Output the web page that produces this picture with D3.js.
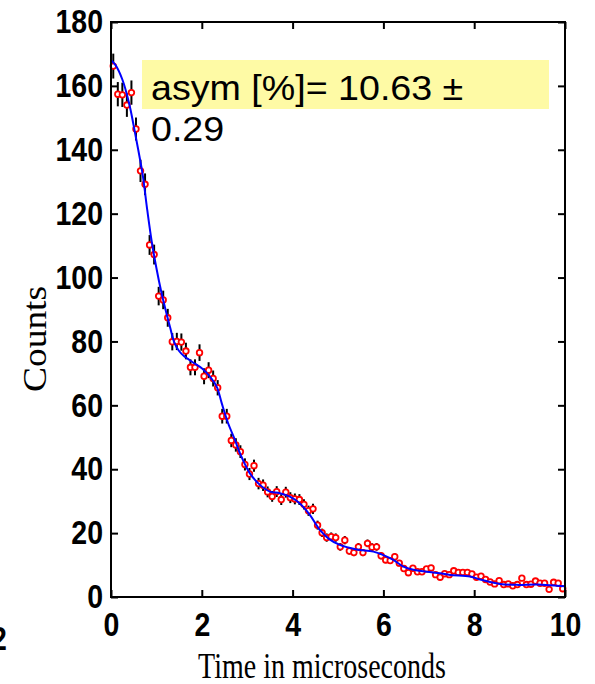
<!DOCTYPE html>
<html>
<head>
<meta charset="utf-8">
<script src="https://cdn.jsdelivr.net/npm/d3@7"></script>
<style>
  body { margin: 0; background: #fff; }
  svg { display: block; }
</style>
</head>
<body>
<div id="chart"></div>
<script>
// data ///////////////////////////
var times = [0.05, 0.15, 0.25, 0.35, 0.45, 0.55, 0.65, 0.75, 0.85, 0.95,
             1.05, 1.15, 1.25, 1.35, 1.45, 1.55, 1.65, 1.75, 1.85, 1.95,
             2.05, 2.15, 2.25, 2.35, 2.45, 2.55, 2.65, 2.75, 2.85, 2.95,
             3.05, 3.15, 3.25, 3.35, 3.45, 3.55, 3.65, 3.75, 3.85, 3.95,
             4.05, 4.15, 4.25, 4.35, 4.45, 4.55, 4.65, 4.75, 4.85, 4.95,
             5.05, 5.15, 5.25, 5.35, 5.45, 5.55, 5.65, 5.75, 5.85, 5.95,
             6.05, 6.15, 6.25, 6.35, 6.45, 6.55, 6.65, 6.75, 6.85, 6.95,
             7.05, 7.15, 7.25, 7.35, 7.45, 7.55, 7.65, 7.75, 7.85, 7.95,
             8.05, 8.15, 8.25, 8.35, 8.45, 8.55, 8.65, 8.75, 8.85, 8.95,
             9.05, 9.15, 9.25, 9.35, 9.45, 9.55, 9.65, 9.75, 9.85, 9.95];

var counts = [166.2, 157.4, 157.2, 154.0, 157.9, 146.5, 133.4, 129.2, 110.2, 107.2,
              94.2, 93.0, 87.4, 79.9, 80.0, 79.8, 77.0, 71.9, 71.9, 76.5,
              69.1, 71.0, 68.4, 65.5, 56.6, 56.6, 49.0, 47.6, 45.5, 41.5,
              38.5, 41.1, 35.5, 35.0, 32.9, 31.5, 33.0, 30.5, 32.8, 31.1,
              30.7, 30.5, 29.0, 27.0, 27.6, 22.5, 20.1, 18.6, 18.9, 18.6,
              15.7, 17.8, 14.4, 13.9, 15.7, 13.9, 16.8, 15.6, 15.7, 12.9,
              11.6, 11.4, 12.6, 10.6, 8.9, 7.6, 9.0, 7.9, 7.9, 8.8,
              9.1, 7.0, 6.2, 7.3, 7.0, 8.2, 7.7, 7.7, 7.7, 7.2,
              6.2, 6.5, 5.5, 4.7, 4.1, 5.1, 3.9, 4.1, 3.5, 3.9,
              5.9, 3.9, 4.0, 5.0, 4.3, 4.3, 2.4, 4.6, 4.3, 2.6];

var errors = [3.9, 3.8, 3.8, 3.7, 3.8, 3.6, 3.5, 3.4, 3.1, 3.1,
              2.9, 2.9, 2.8, 2.7, 2.7, 2.7, 2.6, 2.5, 2.5, 2.6,
              2.5, 2.5, 2.5, 2.4, 2.3, 2.3, 2.1, 2.1, 2.0, 1.9,
              1.9, 1.9, 1.8, 1.8, 1.7, 1.7, 1.7, 1.7, 1.7, 1.7,
              1.7, 1.7, 1.6, 1.6, 1.6, 1.4, 1.3, 1.3, 1.3, 1.3,
              1.2, 1.3, 1.1, 1.1, 1.2, 1.1, 1.2, 1.2, 1.2, 1.1,
              1.0, 1.0, 1.1, 1.0, 0.9, 0.8, 0.9, 0.85, 0.85, 0.9,
              0.9, 0.8, 0.75, 0.8, 0.8, 0.85, 0.8, 0.8, 0.8, 0.8,
              0.75, 0.75, 0.7, 0.65, 0.6, 0.7, 0.6, 0.6, 0.55, 0.6,
              0.7, 0.6, 0.6, 0.65, 0.6, 0.6, 0.45, 0.65, 0.6, 0.5];

// fitted curve
var fitT = [0, 0.1, 0.25, 0.4, 0.5, 0.6, 0.7, 0.8, 0.9, 1.0, 1.1, 1.2, 1.3, 1.4, 1.5, 1.6,
            1.8, 2.0, 2.18, 2.33, 2.44, 2.58, 2.73, 2.84, 3.06, 3.28, 3.5, 3.72, 3.94,
            4.16, 4.38, 4.6, 4.8, 5.04, 5.41, 5.78, 6.0, 6.22, 6.44, 6.66, 6.95, 7.25,
            7.47, 7.91, 8.13, 8.35, 8.57, 8.94, 9.38, 9.82, 10];
var fitV = [168, 166.5, 162, 154.5, 147.5, 140, 132, 121, 111, 103, 96, 90, 84.5, 79.5, 77, 75.5,
            73.5, 71.6, 69, 65.8, 60.6, 54.4, 49.2, 45.0, 38.7, 35.1, 33.0, 32.5, 31.4,
            29.3, 25.7, 21.0, 18.2, 16.3, 14.9, 14.2, 13.1, 11.6, 9.5, 8.5, 7.9, 7.4,
            6.9, 6.4, 5.5, 4.7, 4.1, 3.8, 3.9, 3.5, 3.4];

var xTicks = [0, 2, 4, 6, 8, 10];
var yTicks = [0, 20, 40, 60, 80, 100, 120, 140, 160, 180];

var asymText = ['asym [%]= 10.63 \u00b1', '0.29'];

// setup ///////////////////////////
var W = 595, H = 684;
var mLeft = 111, mRight = 565, mTop = 22, mBottom = 597;

var svg = d3.select('#chart')
    .append('svg')
    .attr('width', W)
    .attr('height', H);

var x = d3.scaleLinear().domain([0, 10]).range([mLeft, mRight]);
var y = d3.scaleLinear().domain([0, 180]).range([mBottom, mTop]);

var tickFont = '"Liberation Sans", Arial, sans-serif';

// data marks ///////////////////////////
var pts = times.map(function(t, i) {
    return {t: t, v: counts[i], e: errors[i]};
});

svg.append('g')
    .selectAll('line')
    .data(pts)
    .enter()
    .append('line')
    .attr('x1', function(d) { return x(d.t); })
    .attr('x2', function(d) { return x(d.t); })
    .attr('y1', function(d) { return y(d.v - d.e); })
    .attr('y2', function(d) { return y(d.v + d.e); })
    .attr('stroke', '#000')
    .attr('stroke-width', 2);

svg.append('g')
    .selectAll('circle')
    .data(pts)
    .enter()
    .append('circle')
    .attr('cx', function(d) { return x(d.t); })
    .attr('cy', function(d) { return y(d.v); })
    .attr('r', 2.8)
    .attr('fill', '#fff')
    .attr('stroke', '#ff0000')
    .attr('stroke-width', 1.8);

var line = d3.line()
    .x(function(d) { return x(d[0]); })
    .y(function(d) { return y(d[1]); })
    .curve(d3.curveCatmullRom);

svg.append('path')
    .datum(fitT.map(function(t, i) { return [t, fitV[i]]; }))
    .attr('d', line)
    .attr('fill', 'none')
    .attr('stroke', '#0000ff')
    .attr('stroke-width', 2);

// axes ///////////////////////////
// tick labels in the picture are narrow and tall, so squeeze them
function styleAxis(g) {
    g.select('.domain').remove();
    g.selectAll('.tick line').attr('stroke', '#000').attr('stroke-width', 2);
    g.selectAll('text')
        .attr('fill', '#000')
        .style('font-family', tickFont)
        .style('font-weight', 'bold')
        .style('font-size', '30px')
        .each(function() {
            var t = d3.select(this);
            var tx = +t.attr('x') || 0, ty = +t.attr('y') || 0;
            t.attr('x', 0).attr('y', 0)
             .attr('transform', 'translate(' + tx + ',' + ty + ') scale(0.95,1.12)');
        });
}

svg.append('g')
    .attr('transform', 'translate(0,' + mBottom + ')')
    .call(d3.axisBottom(x).tickValues(xTicks).tickSizeInner(-7).tickSizeOuter(0).tickPadding(15))
    .call(styleAxis);

svg.append('g')
    .attr('transform', 'translate(0,' + mTop + ')')
    .call(d3.axisTop(x).tickValues(xTicks).tickSizeInner(-7).tickSizeOuter(0).tickFormat(''))
    .call(styleAxis);

svg.append('g')
    .attr('transform', 'translate(' + mLeft + ',0)')
    .call(d3.axisLeft(y).tickValues(yTicks).tickSizeInner(-7).tickSizeOuter(0).tickPadding(8))
    .call(styleAxis);

svg.append('g')
    .attr('transform', 'translate(' + mRight + ',0)')
    .call(d3.axisRight(y).tickValues(yTicks).tickSizeInner(-7).tickSizeOuter(0).tickFormat(''))
    .call(styleAxis);

// frame
svg.append('rect')
    .attr('x', mLeft)
    .attr('y', mTop)
    .attr('width', mRight - mLeft)
    .attr('height', mBottom - mTop)
    .attr('fill', 'none')
    .attr('stroke', '#000')
    .attr('stroke-width', 2);

// annotation ///////////////////////////
svg.append('rect')
    .attr('x', 142)
    .attr('y', 60)
    .attr('width', 407)
    .attr('height', 49)
    .attr('fill', '#fefaa5');

var ann = svg.append('g')
    .attr('transform', 'translate(151,100) scale(1.14,1.06)');
ann.selectAll('text')
    .data(asymText)
    .enter()
    .append('text')
    .attr('x', 0)
    .attr('y', function(d, i) { return i * 39; })
    .style('font-family', tickFont)
    .style('font-size', '33px')
    .attr('fill', '#000')
    .text(function(d) { return d; });

// axis titles ///////////////////////////
svg.append('text')
    .attr('transform', 'translate(322,678) scale(1,1.3)')
    .attr('text-anchor', 'middle')
    .style('font-family', '"Liberation Serif", "Times New Roman", serif')
    .style('font-size', '28px')
    .text('Time in microseconds');

svg.append('text')
    .attr('transform', 'translate(46,339) rotate(-90) scale(1.25,1.1)')
    .attr('text-anchor', 'middle')
    .style('font-family', '"Liberation Serif", "Times New Roman", serif')
    .style('font-size', '30px')
    .text('Counts');

// stray label cut by the left edge
svg.append('text')
    .attr('transform', 'translate(-9,650) scale(0.95,1.12)')
    .style('font-family', tickFont)
    .style('font-weight', 'bold')
    .style('font-size', '30px')
    .text('2');
</script>
</body>
</html>
